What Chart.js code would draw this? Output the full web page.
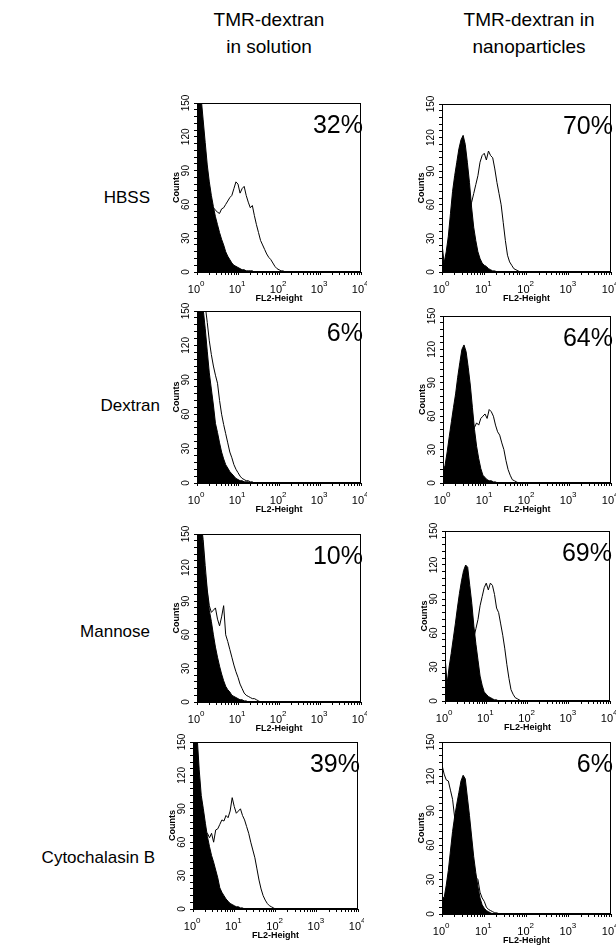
<!DOCTYPE html>
<html><head><meta charset="utf-8">
<script src="https://cdn.jsdelivr.net/npm/chart.js@4/dist/chart.umd.min.js"></script>
<style>
html,body{margin:0;padding:0;background:#fff;}
body{width:616px;height:948px;overflow:hidden;position:relative;font-family:"Liberation Sans",Arial,sans-serif;color:#000;}
.hdr{position:absolute;text-align:center;font-size:19px;line-height:27px;width:220px;}
.rowlab{position:absolute;font-size:17px;text-align:right;width:160px;line-height:20px;white-space:nowrap;}
canvas{position:absolute;}
</style></head><body>
<script>
// ---------------- DATA ----------------
const columnHeaders = [['TMR-dextran', 'in solution'], ['TMR-dextran in', 'nanoparticles']];
const treatments = ['HBSS', 'Dextran', 'Mannose', 'Cytochalasin B'];
const pctSolution = ['32%', '6%', '10%', '39%'];
const pctNano = ['70%', '64%', '69%', '6%'];
const decadeTicks = [0, 1, 2, 3, 4];          // FL2-Height 10^0 .. 10^4
const countTicks = [0, 30, 60, 90, 120, 150];  // Counts
// log10(FL2-Height) channel positions
const logFL2 = [0,0.05,0.1,0.15,0.2,0.25,0.3,0.35,0.4,0.45,0.5,0.55,0.6,0.65,0.7,0.75,0.8,0.85,0.9,0.95,
                1,1.05,1.1,1.15,1.2,1.25,1.3,1.35,1.4,1.45,1.5,1.55,1.6,1.65,1.7,1.75,1.8,1.85,1.9,1.95,2,2.05,2.1,2.15,2.2];
// control (filled) and sample (open) counts
const hbssSolCtrl   = [170,170,155,135,115,95,80,68,58,49,42,35,29,24,18,14,11,8,6,5,4,3,2,2,1,1,1,1,0];
const hbssSolTmr    = [40,45,48,50,52,54,55,56,57,55,53,52,56,57,60,63,66,68,74,80,78,70,74,76,68,62,57,59,50,42,35,28,24,20,16,13,11,8,5,3,2,1,1,0];
const hbssNanoCtrl  = [25,8,18,32,52,72,86,98,110,118,122,114,98,80,58,40,28,18,12,8,6,5,3,2,1,1,0];
const hbssNanoTmr   = [15,5,8,12,18,22,26,30,34,38,42,46,50,56,62,70,78,86,98,104,106,100,108,104,102,92,80,70,60,44,28,15,9,6,3,2,1,0];
const dexSolCtrl    = [170,165,160,152,135,115,96,82,68,52,44,35,27,21,16,13,10,8,6,4,3,2,2,1,1,1,0];
const dexSolTmr     = [175,172,168,163,155,140,124,112,102,94,87,72,60,51,43,35,27,22,16,12,9,6,4,3,2,2,1,1,0];
const dexNanoCtrl   = [10,16,28,42,55,68,80,95,108,120,124,118,104,88,68,48,33,22,13,7,5,3,2,2,1,1,0];
const dexNanoTmr    = [8,10,14,18,22,26,30,34,38,42,45,47,48,50,51,50,54,52,58,60,62,58,66,64,60,52,46,43,36,30,20,12,7,3,2,1,0];
const manSolCtrl    = [170,165,158,140,115,98,82,72,60,49,40,32,25,19,14,11,9,6,5,4,3,2,2,1,1,0];
const manSolTmr     = [172,168,160,145,122,100,86,80,82,84,74,68,76,86,60,54,47,40,33,27,22,16,12,8,6,5,4,3,3,2,1,0];
const manNanoCtrl   = [40,15,30,42,55,68,82,95,106,115,120,118,102,86,66,50,36,22,14,8,6,4,3,2,1,1,0];
const manNanoTmr    = [30,10,12,15,18,22,26,30,34,38,42,45,48,52,56,64,72,84,92,100,104,98,104,102,94,82,78,68,58,46,32,20,10,6,3,2,1,0];
const cytSolCtrl    = [170,165,155,125,102,90,77,65,56,48,42,35,28,19,15,12,9,7,5,4,3,2,2,1,1,0];
const cytSolTmr     = [60,62,64,65,66,66,67,68,64,68,60,71,72,76,80,79,84,82,88,100,92,86,88,90,84,80,74,68,60,53,46,36,26,18,12,8,5,3,2,1,0];
const cytNanoCtrl   = [15,14,25,38,55,72,85,96,106,116,121,118,102,86,68,50,36,24,14,8,5,3,2,1,0];
const cytNanoTmr    = [130,122,117,116,108,100,84,70,60,50,45,42,40,38,36,34,32,30,19,14,11,6,4,3,2,1,1,0];

// ---------------- LAYOUT ----------------
const FONT = '"Liberation Sans", Arial, sans-serif';
const hdrPos = [{cx: 269, top: 6}, {cx: 529, top: 6}];
const rowLabPos = [{right: 150, cy: 198}, {right: 160, cy: 406}, {right: 150, cy: 632}, {right: 155, cy: 858}];
// plot rectangles [left, top, right, bottom]
const panels = [
  {rect: [197, 103, 361, 272], ctrl: hbssSolCtrl, tmr: hbssSolTmr, pct: pctSolution[0]},
  {rect: [442, 104, 611, 272], ctrl: hbssNanoCtrl, tmr: hbssNanoTmr, pct: pctNano[0]},
  {rect: [197, 311, 361, 483], ctrl: dexSolCtrl, tmr: dexSolTmr, pct: pctSolution[1]},
  {rect: [443, 316, 611, 483], ctrl: dexNanoCtrl, tmr: dexNanoTmr, pct: pctNano[1]},
  {rect: [197, 534, 361, 702], ctrl: manSolCtrl, tmr: manSolTmr, pct: pctSolution[2]},
  {rect: [445, 531, 610, 701], ctrl: manNanoCtrl, tmr: manNanoTmr, pct: pctNano[2]},
  {rect: [193, 742, 358, 909], ctrl: cytSolCtrl, tmr: cytSolTmr, pct: pctSolution[3]},
  {rect: [442, 742, 611, 914], ctrl: cytNanoCtrl, tmr: cytNanoTmr, pct: pctNano[3]}
];

columnHeaders.forEach((lines, i) => {
  const d = document.createElement('div');
  d.className = 'hdr';
  d.style.left = (hdrPos[i].cx - 110) + 'px';
  d.style.top = hdrPos[i].top + 'px';
  d.innerHTML = lines.join('<br>');
  document.body.appendChild(d);
});
treatments.forEach((t, i) => {
  const d = document.createElement('div');
  d.className = 'rowlab';
  d.style.left = (rowLabPos[i].right - 160) + 'px';
  d.style.top = (rowLabPos[i].cy - 10) + 'px';
  d.textContent = t;
  document.body.appendChild(d);
});

// log minor tick positions for the FL2 axis
const minorTickVals = [];
for (let d = 0; d < 4; d++) for (let m = 1; m < 10; m++) minorTickVals.push(d + Math.log10(m));
minorTickVals.push(4);

const panelText = {
  id: 'panelText',
  afterDraw(chart, args, opts) {
    const ctx = chart.ctx, a = chart.chartArea, xs = chart.scales.x, ys = chart.scales.y;
    ctx.save();
    ctx.strokeStyle = '#000'; ctx.lineWidth = 1;
    ctx.strokeRect(a.left + 0.5, a.top + 0.5, a.right - a.left - 1, a.bottom - a.top - 1);
    ctx.fillStyle = '#000';
    // x tick labels 10^n
    decadeTicks.forEach(d => {
      const px = xs.getPixelForValue(d);
      ctx.font = '11px ' + FONT;
      ctx.textAlign = 'right'; ctx.textBaseline = 'alphabetic';
      ctx.fillText('10', px + 3, a.bottom + 21);
      ctx.font = '8px ' + FONT;
      ctx.textAlign = 'left';
      ctx.fillText(String(d), px + 3, a.bottom + 14);
    });
    // y tick labels rotated
    countTicks.forEach(v => {
      const py = ys.getPixelForValue(v);
      ctx.save();
      ctx.translate(a.left - 11, py);
      ctx.rotate(-Math.PI / 2);
      ctx.font = '10px ' + FONT;
      ctx.textAlign = 'center'; ctx.textBaseline = 'middle';
      ctx.fillText(String(v), 0, 0);
      ctx.restore();
    });
    // percentage
    ctx.font = '25px ' + FONT;
    ctx.textAlign = 'right'; ctx.textBaseline = 'alphabetic';
    ctx.fillText(opts.pct, a.right + 2, a.top + 30);
    ctx.restore();
  }
};

const toPts = arr => arr.map((v, i) => ({x: logFL2[i], y: v}));

panels.forEach((p, idx) => {
  const [L, T, R, B] = p.rect;
  const yAxisW = 28, xAxisH = 32, padT = 12, padR = 6;
  const W = yAxisW + (R - L) + padR, H = padT + (B - T) + xAxisH;
  const c = document.createElement('canvas');
  c.width = W; c.height = H;
  c.style.width = W + 'px'; c.style.height = H + 'px';
  c.style.left = (L - yAxisW) + 'px'; c.style.top = (T - padT) + 'px';
  document.body.appendChild(c);
  new Chart(c, {
    type: 'line',
    data: {
      datasets: [
        {data: toPts(p.tmr), borderColor: '#000', borderWidth: 1, fill: false, pointRadius: 0, tension: 0, order: 0},
        {data: toPts(p.ctrl), borderColor: '#000', borderWidth: 1, backgroundColor: '#000', fill: 'origin', pointRadius: 0, tension: 0, order: 1}
      ]
    },
    options: {
      responsive: false, animation: false, devicePixelRatio: 1,
      layout: {padding: {left: 0, top: padT, right: padR, bottom: 0}, autoPadding: false},
      plugins: {legend: {display: false}, tooltip: {enabled: false}, panelText: {pct: p.pct}},
      scales: {
        x: {
          type: 'linear', min: 0, max: 4, position: 'bottom',
          afterBuildTicks: s => { s.ticks = minorTickVals.map(v => ({value: v})); },
          afterFit: s => { s.height = xAxisH; s.paddingLeft = 0; s.paddingRight = 0; },
          ticks: {autoSkip: false, maxRotation: 0, minRotation: 0, callback: () => ''},
          grid: {drawOnChartArea: false, drawTicks: true, tickLength: 3, color: '#000'},
          border: {display: true, color: '#000', width: 1},
          title: {display: true, text: 'FL2-Height', color: '#000', font: {size: 9, weight: 'bold', family: FONT}, padding: {top: 0, bottom: 0}}
        },
        y: {
          type: 'linear', min: 0, max: 150, position: 'left',
          afterFit: s => { s.width = yAxisW; s.paddingTop = 0; s.paddingBottom = 0; },
          ticks: {stepSize: 6, autoSkip: false, callback: () => ''},
          grid: {drawOnChartArea: false, drawTicks: true, tickLength: 3, color: '#000'},
          border: {display: true, color: '#000', width: 1},
          title: {display: true, text: 'Counts', color: '#000', font: {size: 9, weight: 'bold', family: FONT}, padding: {top: 2, bottom: 0}}
        }
      }
    },
    plugins: [panelText]
  });
});
</script>
</body></html>
